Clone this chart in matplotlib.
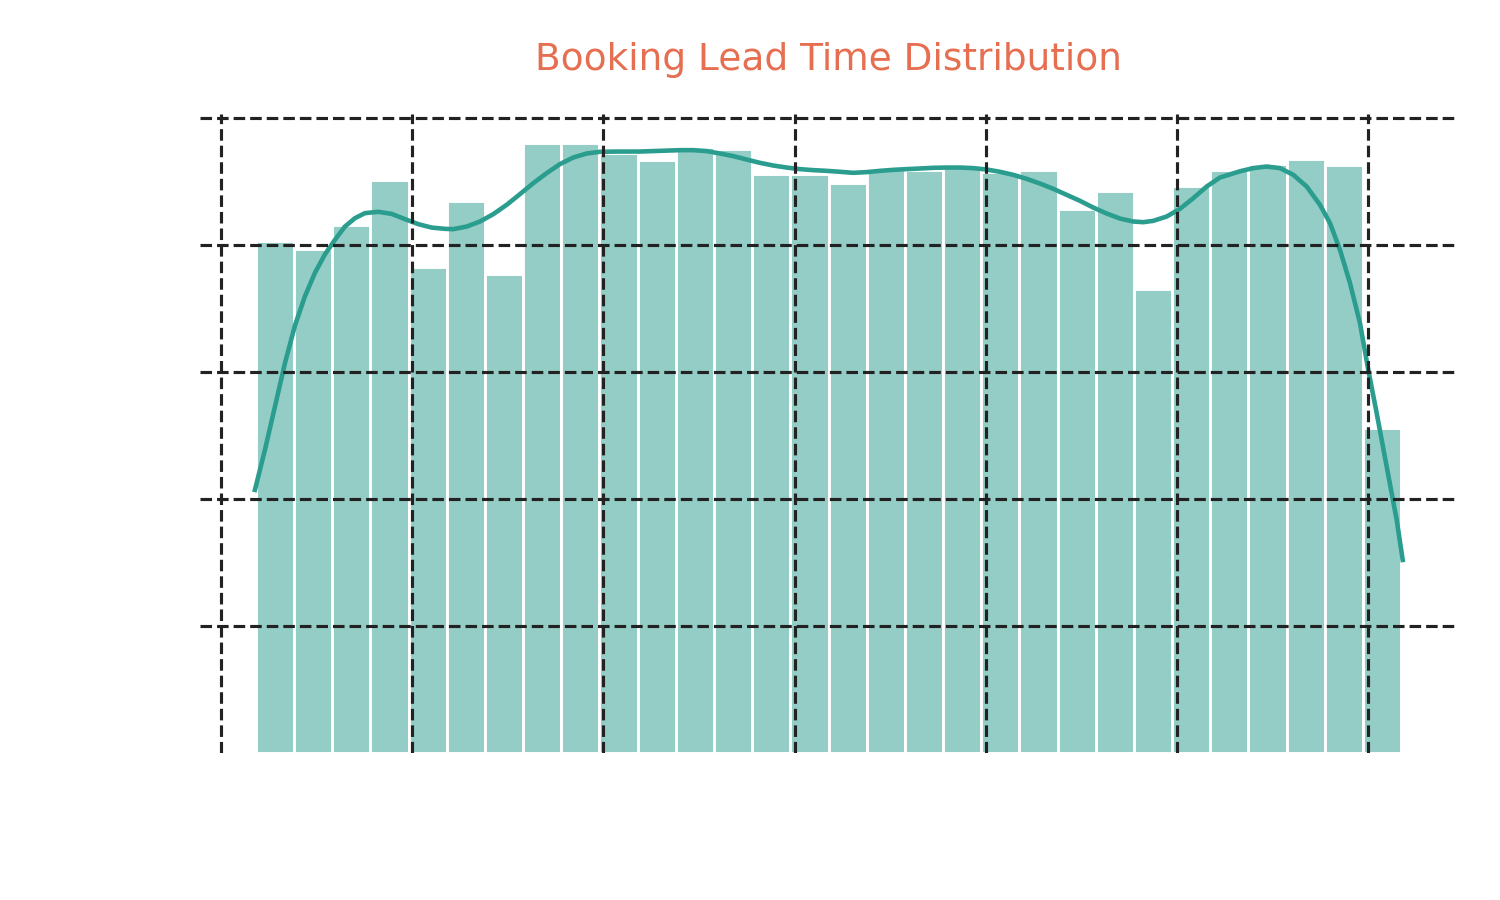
import numpy as np
import matplotlib
matplotlib.use("Agg")
from matplotlib import pyplot as plt

# histogram of lead time (days): 30 bins, counts per bin
bin_start = 9.1
bin_end = 308.6
counts = [80.6, 79.4, 83.1, 90.2, 76.5, 86.9, 75.4, 96.1, 96.1, 94.5,
          93.3, 95.4, 95.1, 91.2, 91.2, 89.8, 92.1, 91.8, 92.4, 91.4,
          91.8, 85.7, 88.5, 73.1, 89.3, 91.8, 92.8, 93.5, 92.6, 51.2]

# smoothed density curve (scaled to counts)
kde_x = [8.86, 11.48, 14.10, 16.71, 19.33, 21.94, 24.56, 27.17, 29.79, 32.40,
         35.02, 37.63, 41.11, 44.61, 48.09, 51.57, 55.07, 58.55, 60.72, 64.23,
         67.70, 71.18, 74.69, 78.16, 81.64, 85.15, 88.62, 92.10, 95.61, 99.08,
         104.32, 109.54, 114.78, 120.01, 123.48, 126.99, 130.47, 133.94, 137.45, 140.93,
         144.40, 147.91, 151.39, 154.86, 158.37, 161.85, 165.32, 168.83, 172.31, 175.78,
         179.29, 182.77, 186.24, 189.75, 193.23, 196.71, 200.21, 203.69, 207.17, 210.67,
         214.15, 217.63, 221.13, 224.61, 228.09, 231.59, 235.07, 238.55, 241.16, 243.78,
         247.28, 250.76, 254.24, 257.74, 261.22, 266.45, 269.93, 273.43, 276.91, 280.39,
         283.89, 287.37, 289.99, 292.60, 295.22, 297.83, 300.00, 302.20, 304.81, 307.43,
         309.00]
kde_y = [41.42, 47.72, 54.54, 61.37, 67.30, 71.90, 75.60, 78.50, 80.79, 82.88,
         84.20, 84.99, 85.20, 84.88, 84.05, 83.26, 82.72, 82.52, 82.47, 82.88,
         83.67, 84.83, 86.30, 87.98, 89.71, 91.29, 92.71, 93.75, 94.38, 94.65,
         94.69, 94.69, 94.80, 94.91, 94.91, 94.76, 94.38, 93.97, 93.43, 92.91,
         92.49, 92.17, 91.92, 91.76, 91.65, 91.50, 91.34, 91.45, 91.65, 91.81,
         91.92, 92.02, 92.13, 92.17, 92.17, 92.08, 91.86, 91.50, 91.02, 90.39,
         89.65, 88.82, 87.87, 86.93, 85.87, 84.93, 84.14, 83.67, 83.57, 83.78,
         84.46, 85.67, 87.35, 89.18, 90.60, 91.58, 92.08, 92.33, 92.08, 91.02,
         89.18, 86.30, 83.42, 79.21, 73.97, 67.67, 60.31, 53.50, 45.09, 36.69,
         30.39]

x_ticks = [0, 50, 100, 150, 200, 250, 300]
y_ticks = [20, 40, 60, 80, 100]

teal = "#2A9D8F"

fig = plt.figure(figsize=(10, 6), dpi=150)
ax = fig.add_axes([200 / 1500, 1 - 753 / 900, 1257 / 1500, 639 / 900])

edges = np.linspace(bin_start, bin_end, len(counts) + 1)
ax.bar(edges[:-1], counts, width=np.diff(edges), align="edge",
       facecolor=(42 / 255, 157 / 255, 143 / 255, 0.5),
       edgecolor="white", linewidth=1.4)
ax.plot(kde_x, kde_y, color=teal, lw=2.2)

ax.set_xlim(-5.5, 323.2)
ax.set_ylim(0, 100.6)
ax.set_xticks(x_ticks)
ax.set_yticks(y_ticks)
ax.set_axisbelow(False)
ax.grid(True, ls="--", color="#222222", lw=1.5)
ax.tick_params(length=0, labelleft=False, labelbottom=False)
for s in ax.spines.values():
    s.set_visible(False)

ax.set_title("Booking Lead Time Distribution", color="#E76F51",
             fontsize=18, pad=21)

fig.savefig("out.png", dpi=150)
